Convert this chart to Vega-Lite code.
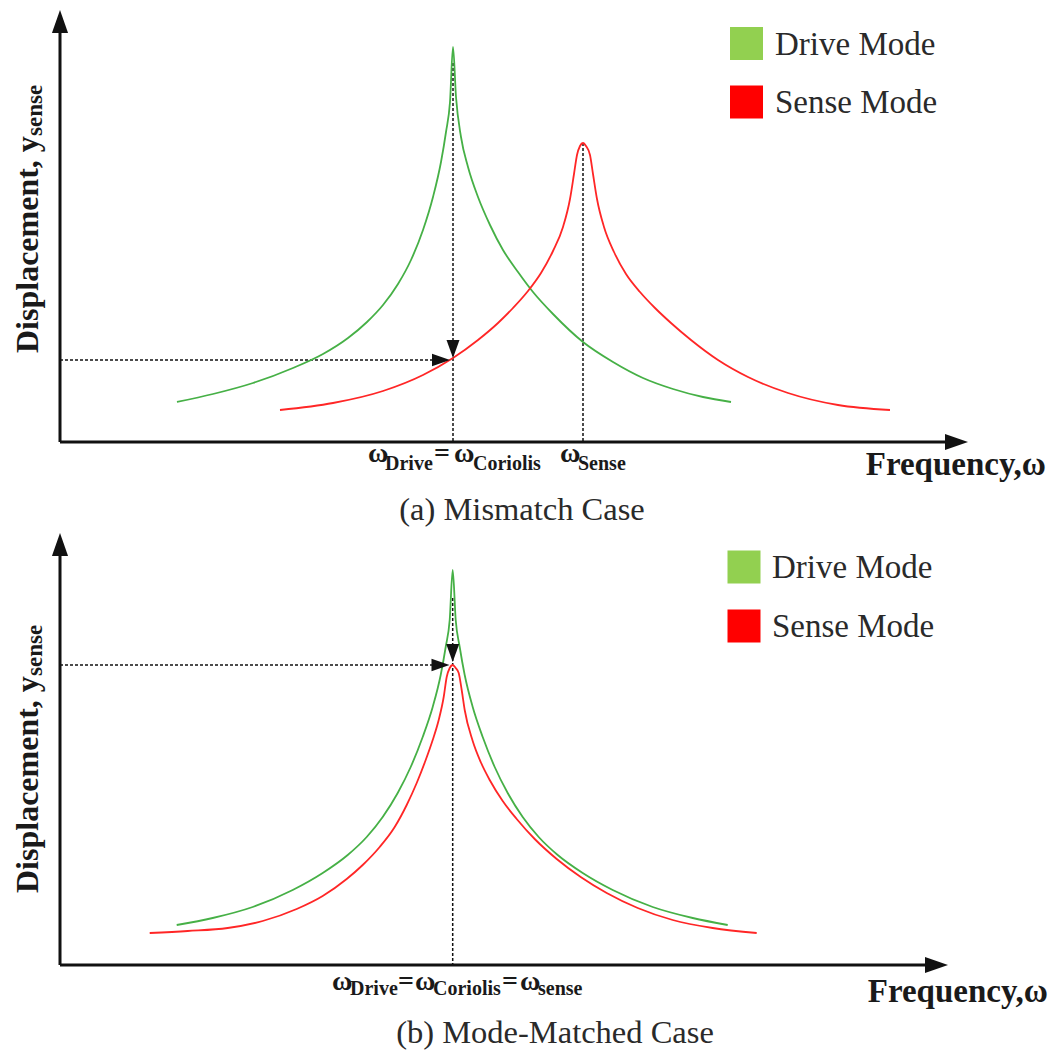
{
  "$schema": "https://vega.github.io/schema/vega-lite/v6.json",
  "padding": 0,
  "spacing": 0,
  "bounds": "flush",
  "background": "white",
  "config": {"view": {"stroke": null}, "font": "Liberation Serif"},
  "datasets": {
    "curves_a": [
      {"mode": "Drive Mode", "freq": 1.17, "disp": 0.40},
      {"mode": "Drive Mode", "freq": 1.53, "disp": 0.48},
      {"mode": "Drive Mode", "freq": 1.93, "disp": 0.59},
      {"mode": "Drive Mode", "freq": 2.33, "disp": 0.74},
      {"mode": "Drive Mode", "freq": 2.63, "disp": 0.88},
      {"mode": "Drive Mode", "freq": 2.88, "disp": 1.04},
      {"mode": "Drive Mode", "freq": 3.07, "disp": 1.20},
      {"mode": "Drive Mode", "freq": 3.23, "disp": 1.37},
      {"mode": "Drive Mode", "freq": 3.38, "disp": 1.58},
      {"mode": "Drive Mode", "freq": 3.51, "disp": 1.82},
      {"mode": "Drive Mode", "freq": 3.63, "disp": 2.12},
      {"mode": "Drive Mode", "freq": 3.73, "disp": 2.45},
      {"mode": "Drive Mode", "freq": 3.81, "disp": 2.80},
      {"mode": "Drive Mode", "freq": 3.86, "disp": 3.10},
      {"mode": "Drive Mode", "freq": 3.90, "disp": 3.40},
      {"mode": "Drive Mode", "freq": 3.93, "disp": 3.95},
      {"mode": "Drive Mode", "freq": 3.96, "disp": 3.45},
      {"mode": "Drive Mode", "freq": 4.01, "disp": 3.05},
      {"mode": "Drive Mode", "freq": 4.08, "disp": 2.75},
      {"mode": "Drive Mode", "freq": 4.18, "disp": 2.45},
      {"mode": "Drive Mode", "freq": 4.30, "disp": 2.17},
      {"mode": "Drive Mode", "freq": 4.43, "disp": 1.92},
      {"mode": "Drive Mode", "freq": 4.58, "disp": 1.70},
      {"mode": "Drive Mode", "freq": 4.73, "disp": 1.50},
      {"mode": "Drive Mode", "freq": 4.93, "disp": 1.28},
      {"mode": "Drive Mode", "freq": 5.23, "disp": 1.00},
      {"mode": "Drive Mode", "freq": 5.53, "disp": 0.80},
      {"mode": "Drive Mode", "freq": 5.83, "disp": 0.64},
      {"mode": "Drive Mode", "freq": 6.13, "disp": 0.53},
      {"mode": "Drive Mode", "freq": 6.43, "disp": 0.45},
      {"mode": "Drive Mode", "freq": 6.71, "disp": 0.40},
      {"mode": "Sense Mode", "freq": 2.20, "disp": 0.32},
      {"mode": "Sense Mode", "freq": 2.73, "disp": 0.39},
      {"mode": "Sense Mode", "freq": 3.23, "disp": 0.51},
      {"mode": "Sense Mode", "freq": 3.63, "disp": 0.67},
      {"mode": "Sense Mode", "freq": 3.93, "disp": 0.84},
      {"mode": "Sense Mode", "freq": 4.18, "disp": 1.02},
      {"mode": "Sense Mode", "freq": 4.38, "disp": 1.19},
      {"mode": "Sense Mode", "freq": 4.53, "disp": 1.34},
      {"mode": "Sense Mode", "freq": 4.68, "disp": 1.51},
      {"mode": "Sense Mode", "freq": 4.81, "disp": 1.69},
      {"mode": "Sense Mode", "freq": 4.93, "disp": 1.91},
      {"mode": "Sense Mode", "freq": 5.03, "disp": 2.15},
      {"mode": "Sense Mode", "freq": 5.10, "disp": 2.43},
      {"mode": "Sense Mode", "freq": 5.14, "disp": 2.68},
      {"mode": "Sense Mode", "freq": 5.17, "disp": 2.87},
      {"mode": "Sense Mode", "freq": 5.20, "disp": 2.96},
      {"mode": "Sense Mode", "freq": 5.23, "disp": 2.99},
      {"mode": "Sense Mode", "freq": 5.26, "disp": 2.96},
      {"mode": "Sense Mode", "freq": 5.30, "disp": 2.87},
      {"mode": "Sense Mode", "freq": 5.33, "disp": 2.68},
      {"mode": "Sense Mode", "freq": 5.37, "disp": 2.43},
      {"mode": "Sense Mode", "freq": 5.44, "disp": 2.15},
      {"mode": "Sense Mode", "freq": 5.54, "disp": 1.90},
      {"mode": "Sense Mode", "freq": 5.66, "disp": 1.68},
      {"mode": "Sense Mode", "freq": 5.80, "disp": 1.50},
      {"mode": "Sense Mode", "freq": 5.95, "disp": 1.34},
      {"mode": "Sense Mode", "freq": 6.11, "disp": 1.19},
      {"mode": "Sense Mode", "freq": 6.31, "disp": 1.02},
      {"mode": "Sense Mode", "freq": 6.58, "disp": 0.82},
      {"mode": "Sense Mode", "freq": 6.88, "disp": 0.65},
      {"mode": "Sense Mode", "freq": 7.28, "disp": 0.49},
      {"mode": "Sense Mode", "freq": 7.78, "disp": 0.37},
      {"mode": "Sense Mode", "freq": 8.30, "disp": 0.32}
    ],
    "curves_b": [
      {"mode": "Drive Mode", "freq": 1.167, "disp": 0.40},
      {"mode": "Drive Mode", "freq": 1.527, "disp": 0.47},
      {"mode": "Drive Mode", "freq": 1.927, "disp": 0.58},
      {"mode": "Drive Mode", "freq": 2.327, "disp": 0.75},
      {"mode": "Drive Mode", "freq": 2.627, "disp": 0.92},
      {"mode": "Drive Mode", "freq": 2.877, "disp": 1.10},
      {"mode": "Drive Mode", "freq": 3.067, "disp": 1.28},
      {"mode": "Drive Mode", "freq": 3.227, "disp": 1.48},
      {"mode": "Drive Mode", "freq": 3.377, "disp": 1.72},
      {"mode": "Drive Mode", "freq": 3.507, "disp": 1.98},
      {"mode": "Drive Mode", "freq": 3.627, "disp": 2.28},
      {"mode": "Drive Mode", "freq": 3.727, "disp": 2.58},
      {"mode": "Drive Mode", "freq": 3.807, "disp": 2.90},
      {"mode": "Drive Mode", "freq": 3.857, "disp": 3.18},
      {"mode": "Drive Mode", "freq": 3.897, "disp": 3.45},
      {"mode": "Drive Mode", "freq": 3.927, "disp": 3.95},
      {"mode": "Drive Mode", "freq": 3.957, "disp": 3.45},
      {"mode": "Drive Mode", "freq": 3.997, "disp": 3.18},
      {"mode": "Drive Mode", "freq": 4.047, "disp": 2.90},
      {"mode": "Drive Mode", "freq": 4.127, "disp": 2.58},
      {"mode": "Drive Mode", "freq": 4.227, "disp": 2.28},
      {"mode": "Drive Mode", "freq": 4.347, "disp": 1.98},
      {"mode": "Drive Mode", "freq": 4.477, "disp": 1.72},
      {"mode": "Drive Mode", "freq": 4.627, "disp": 1.48},
      {"mode": "Drive Mode", "freq": 4.787, "disp": 1.28},
      {"mode": "Drive Mode", "freq": 4.977, "disp": 1.10},
      {"mode": "Drive Mode", "freq": 5.227, "disp": 0.92},
      {"mode": "Drive Mode", "freq": 5.527, "disp": 0.75},
      {"mode": "Drive Mode", "freq": 5.927, "disp": 0.58},
      {"mode": "Drive Mode", "freq": 6.327, "disp": 0.47},
      {"mode": "Drive Mode", "freq": 6.677, "disp": 0.40},
      {"mode": "Sense Mode", "freq": 0.897, "disp": 0.32},
      {"mode": "Sense Mode", "freq": 1.277, "disp": 0.34},
      {"mode": "Sense Mode", "freq": 1.677, "disp": 0.37},
      {"mode": "Sense Mode", "freq": 2.027, "disp": 0.44},
      {"mode": "Sense Mode", "freq": 2.367, "disp": 0.56},
      {"mode": "Sense Mode", "freq": 2.627, "disp": 0.69},
      {"mode": "Sense Mode", "freq": 2.867, "disp": 0.86},
      {"mode": "Sense Mode", "freq": 3.027, "disp": 1.00},
      {"mode": "Sense Mode", "freq": 3.197, "disp": 1.18},
      {"mode": "Sense Mode", "freq": 3.347, "disp": 1.38},
      {"mode": "Sense Mode", "freq": 3.467, "disp": 1.60},
      {"mode": "Sense Mode", "freq": 3.567, "disp": 1.82},
      {"mode": "Sense Mode", "freq": 3.657, "disp": 2.05},
      {"mode": "Sense Mode", "freq": 3.727, "disp": 2.25},
      {"mode": "Sense Mode", "freq": 3.787, "disp": 2.45},
      {"mode": "Sense Mode", "freq": 3.837, "disp": 2.68},
      {"mode": "Sense Mode", "freq": 3.867, "disp": 2.88},
      {"mode": "Sense Mode", "freq": 3.897, "disp": 2.97},
      {"mode": "Sense Mode", "freq": 3.927, "disp": 3.00},
      {"mode": "Sense Mode", "freq": 3.957, "disp": 2.97},
      {"mode": "Sense Mode", "freq": 3.987, "disp": 2.92},
      {"mode": "Sense Mode", "freq": 4.017, "disp": 2.75},
      {"mode": "Sense Mode", "freq": 4.047, "disp": 2.55},
      {"mode": "Sense Mode", "freq": 4.127, "disp": 2.24},
      {"mode": "Sense Mode", "freq": 4.207, "disp": 2.03},
      {"mode": "Sense Mode", "freq": 4.297, "disp": 1.85},
      {"mode": "Sense Mode", "freq": 4.427, "disp": 1.64},
      {"mode": "Sense Mode", "freq": 4.567, "disp": 1.46},
      {"mode": "Sense Mode", "freq": 4.747, "disp": 1.26},
      {"mode": "Sense Mode", "freq": 4.967, "disp": 1.06},
      {"mode": "Sense Mode", "freq": 5.207, "disp": 0.88},
      {"mode": "Sense Mode", "freq": 5.467, "disp": 0.72},
      {"mode": "Sense Mode", "freq": 5.777, "disp": 0.57},
      {"mode": "Sense Mode", "freq": 6.127, "disp": 0.45},
      {"mode": "Sense Mode", "freq": 6.527, "disp": 0.37},
      {"mode": "Sense Mode", "freq": 6.967, "disp": 0.32}
    ],
    "axes_a": [
      {"freq": 0, "disp": 0, "freq2": 0, "disp2": 4.1},
      {"freq": 0, "disp": 0, "freq2": 8.9, "disp2": 0}
    ],
    "axes_b": [
      {"freq": 0, "disp": 0, "freq2": 0, "disp2": 4.1},
      {"freq": 0, "disp": 0, "freq2": 8.7, "disp2": 0}
    ],
    "guides_a": [
      {"freq": 3.93, "disp": 3.79, "freq2": 3.93, "disp2": 0},
      {"freq": 5.23, "disp": 2.99, "freq2": 5.23, "disp2": 0},
      {"freq": 0, "disp": 0.82, "freq2": 3.8, "disp2": 0.82}
    ],
    "guides_b": [
      {"freq": 3.927, "disp": 3.67, "freq2": 3.927, "disp2": 0},
      {"freq": 0, "disp": 3.0, "freq2": 3.8, "disp2": 3.0}
    ],
    "axis_arrows_a": [
      {"dir": "up", "freq": 0, "disp": 4.205},
      {"dir": "right", "freq": 8.965, "disp": 0}
    ],
    "axis_arrows_b": [
      {"dir": "up", "freq": 0, "disp": 4.205},
      {"dir": "right", "freq": 8.765, "disp": 0}
    ],
    "guide_arrows_a": [
      {"dir": "down", "freq": 3.93, "disp": 0.93},
      {"dir": "right", "freq": 3.81, "disp": 0.82}
    ],
    "guide_arrows_b": [
      {"dir": "down", "freq": 3.927, "disp": 3.12},
      {"dir": "right", "freq": 3.805, "disp": 3.0}
    ],
    "legend_a": [
      {"mode": "Drive Mode", "freq": 6.865, "disp": 3.985},
      {"mode": "Sense Mode", "freq": 6.865, "disp": 3.40}
    ],
    "legend_b": [
      {"mode": "Drive Mode", "freq": 6.84, "disp": 3.98},
      {"mode": "Sense Mode", "freq": 6.84, "disp": 3.39}
    ],
    "text_a": [
      {"kind": "title", "text": "Displacement, y", "freq": -0.22, "disp": 0.89},
      {"kind": "titlesub", "text": "sense", "freq": -0.18, "disp": 3.06},
      {"kind": "omega", "text": "ω", "freq": 3.08, "disp": -0.20},
      {"kind": "omega", "text": "=", "freq": 3.74, "disp": -0.20},
      {"kind": "omega", "text": "ω", "freq": 3.94, "disp": -0.20},
      {"kind": "omega", "text": "ω", "freq": 5.00, "disp": -0.20},
      {"kind": "sub", "text": "Drive", "freq": 3.25, "disp": -0.28},
      {"kind": "sub", "text": "Coriolis", "freq": 4.13, "disp": -0.28},
      {"kind": "sub", "text": "Sense", "freq": 5.18, "disp": -0.28},
      {"kind": "axislabel", "text": "Frequency,ω", "freq": 9.86, "disp": -0.33},
      {"kind": "caption", "text": "(a) Mismatch Case", "freq": 4.62, "disp": -0.78},
      {"kind": "legend", "text": "Drive Mode", "freq": 7.15, "disp": 3.87},
      {"kind": "legend", "text": "Sense Mode", "freq": 7.15, "disp": 3.29}
    ],
    "text_b": [
      {"kind": "title", "text": "Displacement, y", "freq": -0.22, "disp": 0.72},
      {"kind": "titlesub", "text": "sense", "freq": -0.18, "disp": 2.89},
      {"kind": "omega", "text": "ω", "freq": 2.72, "disp": -0.25},
      {"kind": "omega", "text": "=", "freq": 3.38, "disp": -0.25},
      {"kind": "omega", "text": "ω", "freq": 3.55, "disp": -0.25},
      {"kind": "omega", "text": "=", "freq": 4.42, "disp": -0.25},
      {"kind": "omega", "text": "ω", "freq": 4.60, "disp": -0.25},
      {"kind": "sub", "text": "Drive", "freq": 2.90, "disp": -0.30},
      {"kind": "sub", "text": "Coriolis", "freq": 3.73, "disp": -0.30},
      {"kind": "sub", "text": "sense", "freq": 4.78, "disp": -0.30},
      {"kind": "axislabel", "text": "Frequency,ω", "freq": 9.88, "disp": -0.37},
      {"kind": "caption", "text": "(b) Mode-Matched Case", "freq": 4.95, "disp": -0.78},
      {"kind": "legend", "text": "Drive Mode", "freq": 7.12, "disp": 3.87},
      {"kind": "legend", "text": "Sense Mode", "freq": 7.12, "disp": 3.28}
    ]
  },
  "vconcat": [
    {
      "width": 1053,
      "height": 527,
      "encoding": {
        "x": {"field": "freq", "type": "quantitative", "scale": {"domain": [-0.6, 9.93], "nice": false, "zero": false}, "axis": null},
        "y": {"field": "disp", "type": "quantitative", "scale": {"domain": [-0.85, 4.42], "nice": false, "zero": false}, "axis": null}
      },
      "layer": [
        {"data": {"name": "axes_a"}, "mark": {"type": "rule", "strokeWidth": 3, "color": "#111"}, "encoding": {"x2": {"field": "freq2"}, "y2": {"field": "disp2"}}},
        {"data": {"name": "guides_a"}, "mark": {"type": "rule", "strokeWidth": 1.5, "strokeDash": [3, 2], "color": "#111"}, "encoding": {"x2": {"field": "freq2"}, "y2": {"field": "disp2"}}},
        {"data": {"name": "curves_a"}, "mark": {"type": "line", "interpolate": "monotone", "strokeWidth": 1.8}, "encoding": {"stroke": {"field": "mode", "type": "nominal", "scale": {"domain": ["Drive Mode", "Sense Mode"], "range": ["#46B046", "#FF2626"]}, "legend": null}}},
        {"data": {"name": "axis_arrows_a"}, "mark": {"type": "point", "filled": true, "size": 529, "fill": "#111", "opacity": 1, "strokeWidth": 0}, "encoding": {"shape": {"field": "dir", "type": "nominal", "scale": {"domain": ["up", "right", "down"], "range": ["M-0.7,1L0,-1L0.7,1Z", "M-1,-0.7L1,0L-1,0.7Z", "M-0.72,-1L0.72,-1L0,1Z"]}, "legend": null}}},
        {"data": {"name": "guide_arrows_a"}, "mark": {"type": "point", "filled": true, "size": 324, "fill": "#111", "opacity": 1, "strokeWidth": 0}, "encoding": {"shape": {"field": "dir", "type": "nominal", "scale": {"domain": ["up", "right", "down"], "range": ["M-0.7,1L0,-1L0.7,1Z", "M-1,-0.7L1,0L-1,0.7Z", "M-0.72,-1L0.72,-1L0,1Z"]}, "legend": null}}},
        {"data": {"name": "legend_a"}, "mark": {"type": "point", "shape": "square", "filled": true, "size": 1089, "opacity": 1, "strokeWidth": 0}, "encoding": {"fill": {"field": "mode", "type": "nominal", "scale": {"domain": ["Drive Mode", "Sense Mode"], "range": ["#92D050", "#FF0000"]}, "legend": null}}},
        {"data": {"name": "text_a"}, "transform": [{"filter": "datum.kind === 'title'"}], "mark": {"type": "text", "angle": 270, "align": "left", "baseline": "alphabetic", "font": "Liberation Serif", "fontSize": 32, "fontWeight": "bold", "color": "#1a1a1a"}, "encoding": {"text": {"field": "text"}}},
        {"data": {"name": "text_a"}, "transform": [{"filter": "datum.kind === 'titlesub'"}], "mark": {"type": "text", "angle": 270, "align": "left", "baseline": "alphabetic", "font": "Liberation Serif", "fontSize": 23, "fontWeight": "bold", "color": "#1a1a1a"}, "encoding": {"text": {"field": "text"}}},
        {"data": {"name": "text_a"}, "transform": [{"filter": "datum.kind === 'omega'"}], "mark": {"type": "text", "align": "left", "baseline": "alphabetic", "font": "Liberation Serif", "fontSize": 28, "fontWeight": "bold", "color": "#1a1a1a"}, "encoding": {"text": {"field": "text"}}},
        {"data": {"name": "text_a"}, "transform": [{"filter": "datum.kind === 'sub'"}], "mark": {"type": "text", "align": "left", "baseline": "alphabetic", "font": "Liberation Serif", "fontSize": 20, "fontWeight": "bold", "color": "#1a1a1a"}, "encoding": {"text": {"field": "text"}}},
        {"data": {"name": "text_a"}, "transform": [{"filter": "datum.kind === 'axislabel'"}], "mark": {"type": "text", "align": "right", "baseline": "alphabetic", "font": "Liberation Serif", "fontSize": 33, "fontWeight": "bold", "color": "#1a1a1a"}, "encoding": {"text": {"field": "text"}}},
        {"data": {"name": "text_a"}, "transform": [{"filter": "datum.kind === 'caption'"}], "mark": {"type": "text", "align": "center", "baseline": "alphabetic", "font": "Liberation Serif", "fontSize": 32.5, "color": "#2a2a2a"}, "encoding": {"text": {"field": "text"}}},
        {"data": {"name": "text_a"}, "transform": [{"filter": "datum.kind === 'legend'"}], "mark": {"type": "text", "align": "left", "baseline": "alphabetic", "font": "Liberation Serif", "fontSize": 33, "color": "#2a2a2a"}, "encoding": {"text": {"field": "text"}}}
      ]
    },
    {
      "width": 1053,
      "height": 527,
      "encoding": {
        "x": {"field": "freq", "type": "quantitative", "scale": {"domain": [-0.6, 9.93], "nice": false, "zero": false}, "axis": null},
        "y": {"field": "disp", "type": "quantitative", "scale": {"domain": [-0.89, 4.38], "nice": false, "zero": false}, "axis": null}
      },
      "layer": [
        {"data": {"name": "axes_b"}, "mark": {"type": "rule", "strokeWidth": 3, "color": "#111"}, "encoding": {"x2": {"field": "freq2"}, "y2": {"field": "disp2"}}},
        {"data": {"name": "guides_b"}, "mark": {"type": "rule", "strokeWidth": 1.5, "strokeDash": [3, 2], "color": "#111"}, "encoding": {"x2": {"field": "freq2"}, "y2": {"field": "disp2"}}},
        {"data": {"name": "curves_b"}, "mark": {"type": "line", "interpolate": "monotone", "strokeWidth": 1.8}, "encoding": {"stroke": {"field": "mode", "type": "nominal", "scale": {"domain": ["Drive Mode", "Sense Mode"], "range": ["#46B046", "#FF2626"]}, "legend": null}}},
        {"data": {"name": "axis_arrows_b"}, "mark": {"type": "point", "filled": true, "size": 529, "fill": "#111", "opacity": 1, "strokeWidth": 0}, "encoding": {"shape": {"field": "dir", "type": "nominal", "scale": {"domain": ["up", "right", "down"], "range": ["M-0.7,1L0,-1L0.7,1Z", "M-1,-0.7L1,0L-1,0.7Z", "M-0.72,-1L0.72,-1L0,1Z"]}, "legend": null}}},
        {"data": {"name": "guide_arrows_b"}, "mark": {"type": "point", "filled": true, "size": 324, "fill": "#111", "opacity": 1, "strokeWidth": 0}, "encoding": {"shape": {"field": "dir", "type": "nominal", "scale": {"domain": ["up", "right", "down"], "range": ["M-0.7,1L0,-1L0.7,1Z", "M-1,-0.7L1,0L-1,0.7Z", "M-0.72,-1L0.72,-1L0,1Z"]}, "legend": null}}},
        {"data": {"name": "legend_b"}, "mark": {"type": "point", "shape": "square", "filled": true, "size": 1089, "opacity": 1, "strokeWidth": 0}, "encoding": {"fill": {"field": "mode", "type": "nominal", "scale": {"domain": ["Drive Mode", "Sense Mode"], "range": ["#92D050", "#FF0000"]}, "legend": null}}},
        {"data": {"name": "text_b"}, "transform": [{"filter": "datum.kind === 'title'"}], "mark": {"type": "text", "angle": 270, "align": "left", "baseline": "alphabetic", "font": "Liberation Serif", "fontSize": 32, "fontWeight": "bold", "color": "#1a1a1a"}, "encoding": {"text": {"field": "text"}}},
        {"data": {"name": "text_b"}, "transform": [{"filter": "datum.kind === 'titlesub'"}], "mark": {"type": "text", "angle": 270, "align": "left", "baseline": "alphabetic", "font": "Liberation Serif", "fontSize": 23, "fontWeight": "bold", "color": "#1a1a1a"}, "encoding": {"text": {"field": "text"}}},
        {"data": {"name": "text_b"}, "transform": [{"filter": "datum.kind === 'omega'"}], "mark": {"type": "text", "align": "left", "baseline": "alphabetic", "font": "Liberation Serif", "fontSize": 28, "fontWeight": "bold", "color": "#1a1a1a"}, "encoding": {"text": {"field": "text"}}},
        {"data": {"name": "text_b"}, "transform": [{"filter": "datum.kind === 'sub'"}], "mark": {"type": "text", "align": "left", "baseline": "alphabetic", "font": "Liberation Serif", "fontSize": 20, "fontWeight": "bold", "color": "#1a1a1a"}, "encoding": {"text": {"field": "text"}}},
        {"data": {"name": "text_b"}, "transform": [{"filter": "datum.kind === 'axislabel'"}], "mark": {"type": "text", "align": "right", "baseline": "alphabetic", "font": "Liberation Serif", "fontSize": 33, "fontWeight": "bold", "color": "#1a1a1a"}, "encoding": {"text": {"field": "text"}}},
        {"data": {"name": "text_b"}, "transform": [{"filter": "datum.kind === 'caption'"}], "mark": {"type": "text", "align": "center", "baseline": "alphabetic", "font": "Liberation Serif", "fontSize": 32.5, "color": "#2a2a2a"}, "encoding": {"text": {"field": "text"}}},
        {"data": {"name": "text_b"}, "transform": [{"filter": "datum.kind === 'legend'"}], "mark": {"type": "text", "align": "left", "baseline": "alphabetic", "font": "Liberation Serif", "fontSize": 33, "color": "#2a2a2a"}, "encoding": {"text": {"field": "text"}}}
      ]
    }
  ]
}
